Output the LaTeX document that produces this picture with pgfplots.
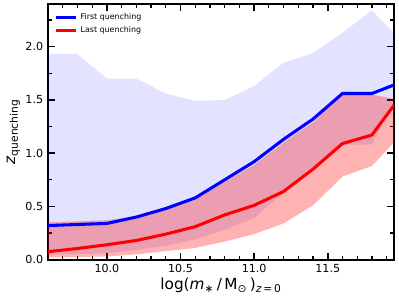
\documentclass[border=0pt]{standalone}
\usepackage{pgfplots}
\pgfplotsset{compat=1.18}
\usepgfplotslibrary{fillbetween}
\usepackage{fontspec}
\setmainfont{DejaVu Sans}
\begin{document}
\begin{tikzpicture}
\begin{axis}[
  scale only axis,
  width=249pt, height=184pt,
  xmin=9.6, xmax=11.95, ymin=0, ymax=2.4,
  axis line style={line width=1.3pt},
  xtick={10,10.5,11,11.5},
  ytick={0,0.5,1,1.5,2},
  minor xtick={9.7,9.8,9.9,10.1,10.2,10.3,10.4,10.6,10.7,10.8,10.9,11.1,11.2,11.3,11.4,11.6,11.7,11.8,11.9},
  minor ytick={0.25,0.75,1.25,1.75,2.25},
  tick align=inside,
  major tick length=5pt, minor tick length=2.8pt,
  every major tick/.style={line width=1.2pt, black},
  every minor tick/.style={line width=0.9pt, black},
  tick pos=both,
  xticklabel style={/pgf/number format/fixed, /pgf/number format/fixed zerofill, /pgf/number format/precision=1},
  yticklabel style={/pgf/number format/fixed, /pgf/number format/fixed zerofill, /pgf/number format/precision=1},
  /pgf/number format/assume math mode=true,
  ticklabel style={font=\fontsize{8}{9}\selectfont},
  xlabel={log(\textit{m}\textsubscript{∗}\,/\,M\textsubscript{⊙}\,)\textsubscript{\textit{z}\,=\,0}},
  ylabel={\textit{z}\textsubscript{quenching}},
  label style={font=\fontsize{11}{12}\selectfont},
  xlabel style={yshift=3pt},
  ylabel style={yshift=-3pt},
  legend style={at={(0.005,0.985)}, anchor=north west, draw=none, fill=none,
    font=\fontsize{5.7}{6.7}\selectfont, row sep=-0.5pt},
  legend cell align=left,
  legend image code/.code={\draw[#1, line width=2pt] (0pt,0pt) -- (15pt,0pt);},
]
\addplot[name path=bu, draw=none, forget plot] coordinates {
(9.6,1.93) (9.8,1.93) (10.0,1.70) (10.2,1.70) (10.4,1.56) (10.6,1.49) (10.8,1.50) (11.0,1.63) (11.2,1.85) (11.4,1.94) (11.6,2.13) (11.8,2.34) (11.95,2.13)};
\addplot[name path=bl, draw=none, forget plot] coordinates {
(9.6,0.045) (9.8,0.05) (10.0,0.06) (10.2,0.09) (10.4,0.13) (10.6,0.19) (10.8,0.28) (11.0,0.39) (11.2,0.63) (11.4,0.86) (11.6,1.08) (11.8,1.08) (11.95,1.5)};
\addplot[fill=blue, fill opacity=0.11, draw=none, forget plot] fill between[of=bu and bl];
\addplot[name path=ru, draw=none, forget plot] coordinates {
(9.6,0.35) (9.8,0.36) (10.0,0.37) (10.2,0.41) (10.4,0.49) (10.6,0.58) (10.8,0.73) (11.0,0.89) (11.2,1.10) (11.4,1.29) (11.6,1.56) (11.8,1.55) (11.95,1.51)};
\addplot[name path=rl, draw=none, forget plot] coordinates {
(9.6,0.02) (9.8,0.025) (10.0,0.03) (10.2,0.05) (10.4,0.08) (10.6,0.11) (10.8,0.17) (11.0,0.24) (11.2,0.34) (11.4,0.51) (11.6,0.78) (11.8,0.88) (11.95,1.10)};
\addplot[fill=red, fill opacity=0.3, draw=none, forget plot] fill between[of=ru and rl];
\addplot[blue, line width=2.2pt] coordinates {
(9.6,0.32) (9.8,0.33) (10.0,0.34) (10.2,0.40) (10.4,0.48) (10.6,0.58) (10.8,0.75) (11.0,0.92) (11.2,1.13) (11.4,1.32) (11.6,1.56) (11.8,1.56) (11.95,1.64)};
\addlegendentry{First quenching}
\addplot[red, line width=2.2pt] coordinates {
(9.6,0.075) (9.8,0.105) (10.0,0.14) (10.2,0.18) (10.4,0.24) (10.6,0.31) (10.8,0.42) (11.0,0.51) (11.2,0.64) (11.4,0.85) (11.6,1.09) (11.8,1.17) (11.95,1.45)};
\addlegendentry{Last quenching}
\end{axis}
\pgfresetboundingbox
\path ([shift={(-34.6pt,-28.8pt)}]current axis.south west) rectangle ([shift={(3.6pt,2.9pt)}]current axis.north east);
\end{tikzpicture}
\end{document}
